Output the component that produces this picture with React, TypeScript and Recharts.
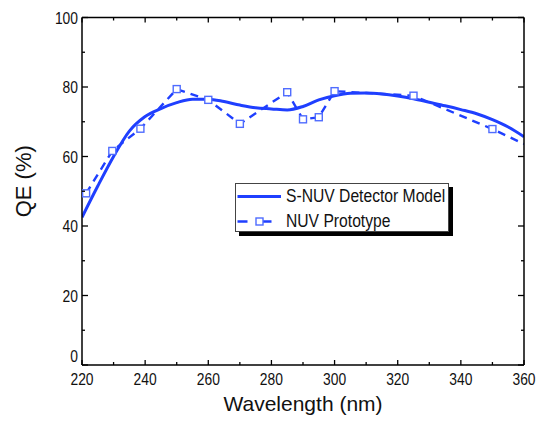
import React from "react";
import { LineChart, Line, XAxis, YAxis, Legend } from "recharts";

// S-NUV detector model (solid)
const modelWl = [220, 225, 230, 235, 240, 245, 250, 255, 260, 265, 270, 275, 280, 285, 290, 295, 300, 305, 310, 315, 320, 325, 330, 335, 340, 345, 350, 355, 360];
const modelQe = [42.5, 51.5, 60, 67.3, 71.5, 73.8, 75.5, 76.5, 76.5, 75.8, 74.8, 74.0, 73.7, 73.4, 74.4, 76.3, 77.5, 78.2, 78.3, 78.0, 77.4, 76.6, 75.6, 74.6, 73.5, 72.3, 70.6, 68.5, 65.7];

// NUV prototype measurements (dashed + squares)
const protoWl = [221.3, 229.6, 238.5, 250, 260, 270, 285, 290, 295, 300, 325, 350, 360];
const protoQe = [49.4, 61.6, 68.0, 79.4, 76.3, 69.4, 78.5, 70.7, 71.3, 78.8, 77.5, 67.9, 63.6];

const xTicks = [220, 230, 240, 250, 260, 270, 280, 290, 300, 310, 320, 330, 340, 350, 360];
const yTicks = [0, 10, 20, 30, 40, 50, 60, 70, 80, 90, 100];

const modelData = modelWl.map((wl, i) => ({ wl, qe: modelQe[i] }));
const protoData = protoWl.map((wl, i) => ({ wl, qe: protoQe[i] }));

const FONT = "'Liberation Sans', Arial, sans-serif";
const LINE = "#1f3fff";
const MARK = "#4f6cff";
const NARROW = 0.84;

const BottomTick = (props: any) => {
  const { x, y, payload } = props;
  const major = payload.value % 20 === 0;
  return (
    <g>
      <line x1={x} x2={x} y1={y} y2={y - (major ? 5 : 3)} stroke="#000" strokeWidth={1.3} />
      {major && (
        <g transform={`translate(${x}, ${y + 20}) scale(${NARROW}, 1)`}>
          <text x={0} y={0} textAnchor="middle" fontSize={16.5} fontFamily={FONT} fill="#111">
            {payload.value}
          </text>
        </g>
      )}
    </g>
  );
};

const TopTick = (props: any) => {
  const { x, y, payload } = props;
  const major = payload.value % 20 === 0;
  return <line x1={x} x2={x} y1={y} y2={y + (major ? 5 : 3)} stroke="#000" strokeWidth={1.3} />;
};

const LeftTick = (props: any) => {
  const { x, y, payload } = props;
  const major = payload.value % 20 === 0;
  const ty = payload.value === 0 ? y - 9 : y;
  return (
    <g>
      <line x1={x} x2={x + (major ? 6 : 3)} y1={y} y2={y} stroke="#000" strokeWidth={1.3} />
      {major && (
        <g transform={`translate(${x - 4}, ${ty + 6}) scale(${NARROW}, 1)`}>
          <text x={0} y={0} textAnchor="end" fontSize={16.5} fontFamily={FONT} fill="#111">
            {payload.value}
          </text>
        </g>
      )}
    </g>
  );
};

const RightTick = (props: any) => {
  const { x, y, payload } = props;
  const major = payload.value % 20 === 0;
  return <line x1={x} x2={x - (major ? 6 : 3)} y1={y} y2={y} stroke="#000" strokeWidth={1.3} />;
};

const SquareDot = (props: any) => {
  const { cx, cy, index } = props;
  if (index === protoWl.length - 1) return <g key={index} />;
  return <rect key={index} x={cx - 3.5} y={cy - 3.5} width={7} height={7} fill="#fff" stroke={MARK} strokeWidth={1.4} />;
};

const legendText: React.CSSProperties = {
  position: "absolute",
  left: 50,
  whiteSpace: "nowrap",
  transform: `scaleX(${NARROW + 0.03})`,
  transformOrigin: "left center",
};

const LegendBox = () => (
  <div
    style={{
      width: 212,
      height: 47,
      background: "#fff",
      border: "1px solid #444",
      boxShadow: "4px 4px 0 #000",
      fontFamily: FONT,
      fontSize: 18,
      color: "#111",
      position: "relative",
    }}
  >
    <svg width={48} height={47} style={{ position: "absolute", left: 0, top: 0 }}>
      <line x1={1.5} x2={45} y1={12.5} y2={12.5} stroke={LINE} strokeWidth={3} />
      <line x1={1.5} x2={45} y1={37.5} y2={37.5} stroke={LINE} strokeWidth={2.5} strokeDasharray="10 14" />
      <rect x={20} y={34} width={7} height={7} fill="#fff" stroke={MARK} strokeWidth={1.4} />
    </svg>
    <div style={{ ...legendText, top: 2 }}>S-NUV Detector Model</div>
    <div style={{ ...legendText, top: 27 }}>NUV Prototype</div>
  </div>
);

const YLabel = (props: any) => {
  const { viewBox } = props;
  const cx = viewBox.x + 1;
  const cy = viewBox.y + viewBox.height / 2 - 10;
  return (
    <text x={cx} y={cy} transform={`rotate(-90, ${cx}, ${cy})`} textAnchor="middle" dy={8} fontSize={22} fontFamily={FONT} fill="#111">
      QE (%)
    </text>
  );
};

export default function App() {
  return (
    <div style={{ position: "absolute", left: 0, top: 0, background: "#fff" }}>
      <LineChart width={538} height={426} margin={{ top: 13.5, right: 10, bottom: 11, left: 22 }}>
        <XAxis
          xAxisId="b"
          type="number"
          dataKey="wl"
          domain={[220, 360]}
          ticks={xTicks}
          interval={0}
          tickSize={0}
          tickMargin={0}
          tick={<BottomTick />}
          height={50}
          allowDataOverflow
          axisLine={{ stroke: "#000", strokeWidth: 1.5 }}
          label={{ value: "Wavelength (nm)", position: "insideBottom", offset: 4, fontSize: 21, fontFamily: FONT, fill: "#111" }}
        />
        <XAxis
          xAxisId="t"
          orientation="top"
          type="number"
          dataKey="wl"
          domain={[220, 360]}
          ticks={xTicks}
          interval={0}
          tickSize={0}
          tickMargin={0}
          tick={<TopTick />}
          height={4}
          allowDataOverflow
          axisLine={{ stroke: "#000", strokeWidth: 1.5 }}
        />
        <YAxis
          yAxisId="l"
          type="number"
          domain={[0, 100]}
          ticks={yTicks}
          interval={0}
          tickSize={0}
          tickMargin={0}
          tick={<LeftTick />}
          width={60}
          allowDataOverflow
          axisLine={{ stroke: "#000", strokeWidth: 1.5 }}
          label={<YLabel />}
        />
        <YAxis
          yAxisId="r"
          orientation="right"
          type="number"
          domain={[0, 100]}
          ticks={yTicks}
          interval={0}
          tickSize={0}
          tickMargin={0}
          tick={<RightTick />}
          width={4}
          allowDataOverflow
          axisLine={{ stroke: "#000", strokeWidth: 1.5 }}
        />
        <Line
          xAxisId="b"
          yAxisId="l"
          data={protoData}
          dataKey="qe"
          type="linear"
          stroke={LINE}
          strokeWidth={2.4}
          strokeDasharray="8 6"
          dot={<SquareDot />}
          isAnimationActive={false}
        />
        <Line
          xAxisId="b"
          yAxisId="l"
          data={modelData}
          dataKey="qe"
          type="monotone"
          stroke={LINE}
          strokeWidth={3}
          dot={false}
          isAnimationActive={false}
        />
        <Legend
          layout="vertical"
          align="center"
          verticalAlign="middle"
          wrapperStyle={{ left: 235, top: 183, width: 214 }}
          content={<LegendBox />}
        />
      </LineChart>
    </div>
  );
}
